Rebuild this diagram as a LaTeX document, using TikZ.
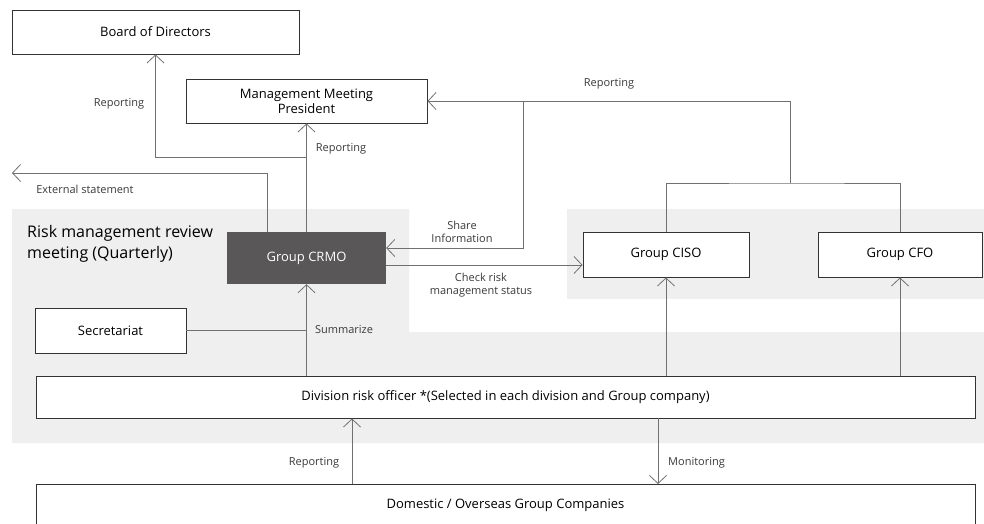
\documentclass[tikz,border=0pt]{standalone}
\usepackage{fontspec}
\setmainfont{Open Sans}
\usetikzlibrary{arrows.meta,calc}
\definecolor{bandgray}{HTML}{EFEFEF}
\definecolor{crmofill}{HTML}{595757}
\definecolor{linegray}{HTML}{707070}
\definecolor{boxline}{HTML}{333333}
\definecolor{labelcol}{HTML}{3A3A3A}
\tikzset{
  box/.style={draw=boxline, line width=0.9pt, fill=white, inner sep=0pt, font=\fontsize{13}{14.7}\selectfont, align=center, text=black},
  darkbox/.style={fill=crmofill, inner sep=0pt, font=\fontsize{13}{14.7}\selectfont, text=white},
  conn/.style={draw=linegray, line width=0.9pt},
  arr/.style={conn, -{Straight Barb[length=8pt,width=17pt,line width=0.8pt]}},
  lbl/.style={font=\fontsize{11}{13.5}\selectfont, text=labelcol, align=center, inner sep=0pt},
}
\begin{document}
\begin{tikzpicture}[x=1pt,y=-1pt]
\clip (0,0) rectangle (984,524);
\fill[white] (0,0) rectangle (984,524);
% gray bands
\fill[bandgray] (12,209) -- (409,209) -- (409,332) -- (984,332) -- (984,443) -- (12,443) -- cycle;
\fill[bandgray] (567,209) rectangle (984,299);
% nodes
\node[box, minimum width=287pt, minimum height=44pt] (board) at (155.5,32) {Board of Directors};
\node[box, minimum width=241pt, minimum height=44pt] (mgmt) at (306.5,101) {Management Meeting\\President};
\node[darkbox, minimum width=159pt, minimum height=52pt] (crmo) at (306.5,258) {Group CRMO};
\node[box, minimum width=151pt, minimum height=45pt] (secr) at (110.5,330.5) {Secretariat};
\node[box, minimum width=166pt, minimum height=45pt] (ciso) at (666,254.5) {Group CISO};
\node[box, minimum width=164pt, minimum height=45pt] (cfo) at (900,254.5) {Group CFO};
\node[box, minimum width=939pt, minimum height=42pt] (div) at (505.5,397) {Division risk officer *(Selected in each division and Group company)};
\node[box, minimum width=939pt, minimum height=42pt, anchor=north] (dom) at (505.5,484) {};
\node[box, draw=none, fill=none] (domtxt) at (505.5,505) {Domestic / Overseas Group Companies};
\node[anchor=west, inner sep=0pt, align=left, font=\fontsize{16}{21}\selectfont, text=black] (title) at (27,243.5) {Risk management review\\meeting (Quarterly)};
% coordinates
\coordinate (j1) at (306.5,157);
\coordinate (extend) at (12,173);
\coordinate (extstart) at ($(crmo.north west)+(41,0)$);
\coordinate (topj) at (790,183);
\coordinate (topc) at (790,101);
\coordinate (sharej) at (523,101);
\coordinate (sumj) at (306.5,330.5);
% connectors
\draw[arr] (crmo.north) -- (mgmt.south);
\draw[arr] (j1) -| (board.south);
\draw[arr] (extstart) |- (extend);
\draw[arr] (topj) -- (topc) -- (mgmt.east);
\draw[arr] (sharej) |- ($(crmo.east)+(0,-10)$);
\draw[arr] ($(crmo.east)+(0,7)$) -- ($(ciso.west)+(0,10.5)$);
\draw[conn] (ciso.north) |- (topj) -| (cfo.north);
\draw[arr] (div.north -| crmo.south) -- (crmo.south);
\draw[conn] (secr.east) -- (sumj);
\draw[arr] (div.north -| ciso.south) -- (ciso.south);
\draw[arr] (div.north -| cfo.south) -- (cfo.south);
\draw[arr] (dom.north -| 352,0) -- (div.south -| 352,0);
\draw[arr] (div.south -| 658,0) -- (dom.north -| 658,0);
% labels
\node[lbl] (l1) at (119,104) {Reporting};
\node[lbl] (l2) at (341,149) {Reporting};
\node[lbl] (l3) at (85,189) {External statement};
\node[lbl] (l4) at (609,84) {Reporting};
\node[lbl] (l5) at (462,232) {Share\\Information};
\node[lbl] (l6) at (481,285) {Check risk\\management status};
\node[lbl] (l7) at (344,330) {Summarize};
\node[lbl] (l8) at (314,463) {Reporting};
\node[lbl, anchor=west] (l9) at (668,463) {Monitoring};
\end{tikzpicture}
\end{document}
